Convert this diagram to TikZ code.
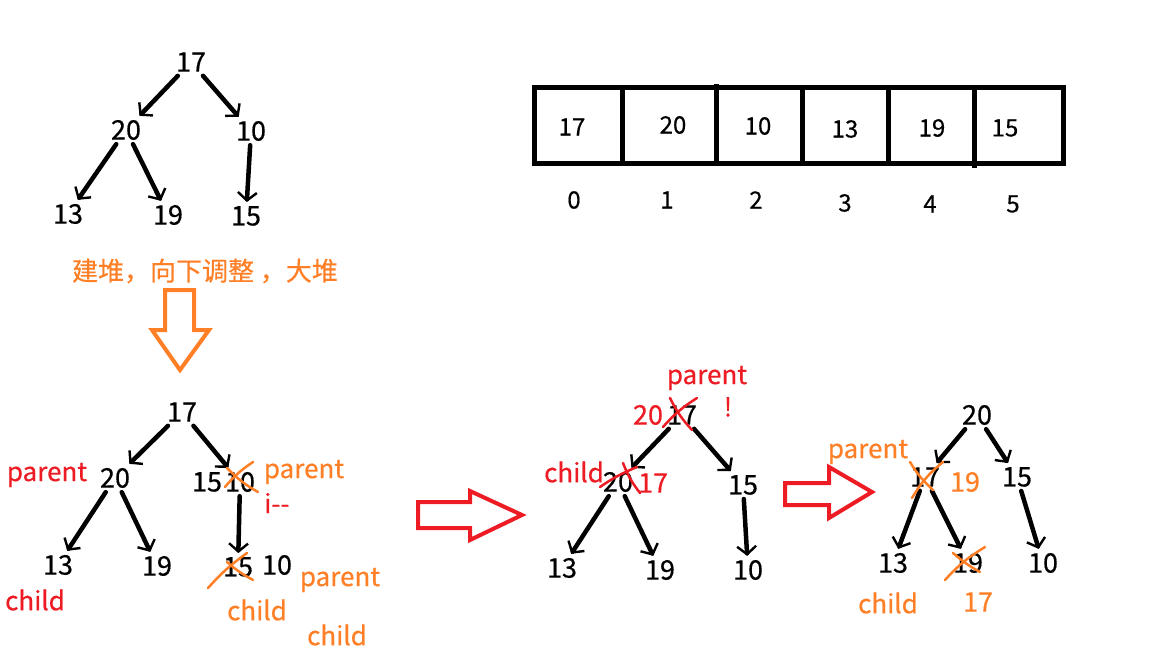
\documentclass[tikz,border=0pt]{standalone}
\usepackage{fontspec}
\setmainfont{Noto Sans CJK SC}
\newfontfamily\medfont{Noto Sans CJK SC}[FakeBold=0.5]
\usetikzlibrary{arrows.meta}
\definecolor{hred}{RGB}{237,28,36}
\definecolor{horange}{RGB}{255,127,39}
\tikzset{
  num/.style={font=\medfont\fontsize{27}{30}\selectfont, inner sep=4pt},
  anum/.style={font=\medfont\fontsize{24}{28}\selectfont, inner sep=0pt},
  idx/.style={font=\medfont\fontsize{24}{28}\selectfont, inner sep=0pt},
  lbl/.style={font=\medfont\fontsize{26}{30}\selectfont, inner sep=0pt},
  arr/.style={line width=4.5pt, line cap=round,
    -{Straight Barb[length=8pt,width=19pt,line width=2.4pt]}},
  xmark/.style={line width=2.5pt, line cap=round},
  blockarrow/.style={line width=4pt, line join=miter},
  cellline/.style={line width=5pt},
}
\begin{document}
\begin{tikzpicture}[x=1pt,y=-1pt]
\useasboundingbox (0,0) rectangle (1152,648);

% ---------------- top tree ----------------
\node[num] (t17) at (191,62) {17};
\node[num] (t20) at (126,130) {20};
\node[num] (t10) at (251,131) {10};
\node[num] (t13) at (68,214) {13};
\node[num] (t19) at (168,215) {19};
\node[num] (t15) at (246,216) {15};
\draw[arr] (t17) -- (t20);
\draw[arr] (t17) -- (t10);
\draw[arr] (t20) -- (t13);
\draw[arr] (t20) -- (t19);
\draw[arr] (t10) -- (t15);

\node[lbl, text=horange] (cap) at (205,271) {建堆，向下调整 ，大堆};

% orange down block arrow
\draw[blockarrow, draw=horange] (165,290) -- (194,290) -- (194,330) -- (209,330)
  -- (180,370) -- (152,330) -- (165,330) -- cycle;

% ---------------- array ----------------
\draw[cellline] (534,87) rectangle (1063,163);
\draw[cellline] (622,87) -- (622,163);
\draw[cellline] (716,84) -- (716,163);
\draw[cellline] (802,87) -- (802,163);
\draw[cellline] (888,87) -- (888,163);
\draw[cellline] (974,87) -- (974,168);
\node[anum] (a0) at (572,127) {17};
\node[anum] (a1) at (673,125) {20};
\node[anum] (a2) at (758,126) {10};
\node[anum] (a3) at (845,129) {13};
\node[anum] (a4) at (932,128) {19};
\node[anum] (a5) at (1005,128) {15};
\node[idx] (i0) at (574,200) {0};
\node[idx] (i1) at (667,200) {1};
\node[idx] (i2) at (756,200) {2};
\node[idx] (i3) at (845,203) {3};
\node[idx] (i4) at (930,204) {4};
\node[idx] (i5) at (1013,204) {5};

% ---------------- bottom-left tree ----------------
\node[num] (b17) at (182,412) {17};
\node[num] (b20) at (115,478) {20};
\node[num] (b10) at (240,482) {10};
\node[num, inner sep=0pt] (b15new) at (207,482) {15};
\node[num] (b13) at (58,565) {13};
\node[num] (b19) at (157,566) {19};
\node[num] (b15) at (238,567) {15};
\node[num, inner sep=0pt] (b10new) at (277,565) {10};
\draw[arr] (b17) -- (b20);
\draw[arr] (b17) -- (b10);
\draw[arr] (b20) -- (b13);
\draw[arr] (b20) -- (b19);
\draw[arr] (b10) -- (b15);
\draw[xmark, draw=horange] (225,487) to[bend left=8] (253,462);
\draw[xmark, draw=horange] (227,468) to[bend right=8] (258,492);
\draw[xmark, draw=horange] (208,588) to[bend left=6] (247,553);
\draw[xmark, draw=horange] (227,562) to[bend right=6] (253,580);
\node[lbl, text=hred] (bpar1) at (47,475) {parent};
\node[lbl, text=horange] (bpar2) at (304,472) {parent};
\node[lbl, text=hred, anchor=west] (bi) at (264,503) {i\mbox{-}\mbox{-}};
\node[lbl, text=hred] (bch1) at (35,600) {child};
\node[lbl, text=horange] (bch2) at (257,610) {child};
\node[lbl, text=horange] (bpar3) at (340,580) {parent};
\node[lbl, text=horange] (bch3) at (337,635) {child};

% red block arrow 1
\draw[blockarrow, draw=hred] (418,502) -- (470,502) -- (470,491) -- (522,515)
  -- (470,540) -- (470,528) -- (418,528) -- cycle;

% ---------------- middle tree ----------------
\node[num] (m17) at (682,415) {17};
\node[num] (m20) at (618,482) {20};
\node[num] (m15) at (743,485) {15};
\node[num] (m13) at (562,568) {13};
\node[num] (m19) at (660,570) {19};
\node[num] (m10) at (748,570) {10};
\draw[arr] (m17) -- (m20);
\draw[arr] (m17) -- (m15);
\draw[arr] (m20) -- (m13);
\draw[arr] (m20) -- (m19);
\draw[arr] (m15) -- (m10);
\draw[xmark, draw=hred] (663,427) to[bend left=8] (697,398);
\draw[xmark, draw=hred] (670,398) to[bend right=8] (692,430);
\draw[xmark, draw=hred] (600,487) to[bend left=6] (637,467);
\draw[xmark, draw=hred] (623,463) to[bend right=8] (640,493);
\node[lbl, text=hred] (mpar) at (707,378) {parent};
\node[lbl, text=hred] (mi) at (728,407) {!};
\node[num, inner sep=0pt, text=hred] (m20new) at (648,415) {20};
\node[lbl, text=hred] (mch) at (574,472) {child};
\node[num, inner sep=0pt, text=hred] (m17new) at (653,483) {17};

% red block arrow 2
\draw[blockarrow, draw=hred] (785,483) -- (829,483) -- (829,467) -- (872,492)
  -- (829,518) -- (829,505) -- (785,505) -- cycle;

% ---------------- right tree ----------------
\node[num] (r20) at (977,415) {20};
\node[num] (r17) at (925,477) {17};
\node[num] (r15) at (1017,477) {15};
\node[num] (r13) at (893,563) {13};
\node[num] (r19) at (968,563) {19};
\node[num] (r10) at (1043,563) {10};
\draw[arr] (r20) -- (r17);
\draw[arr] (r20) -- (r15);
\draw[arr] (r17) -- (r13);
\draw[arr] (r17) -- (r19);
\draw[arr] (r15) -- (r10);
\draw[xmark, draw=horange] (912,498) to[bend left=10] (943,462);
\draw[xmark, draw=horange] (910,462) to[bend right=8] (933,490);
\draw[xmark, draw=horange] (945,580) to[bend left=8] (985,547);
\draw[xmark, draw=horange] (953,553) to[bend right=6] (980,572);
\node[lbl, text=horange] (rpar) at (868,452) {parent};
\node[num, inner sep=0pt, text=horange] (r19new) at (965,482) {19};
\node[lbl, text=horange] (rch) at (888,603) {child};
\node[num, inner sep=0pt, text=horange] (r17new) at (978,602) {17};
\end{tikzpicture}
\end{document}
